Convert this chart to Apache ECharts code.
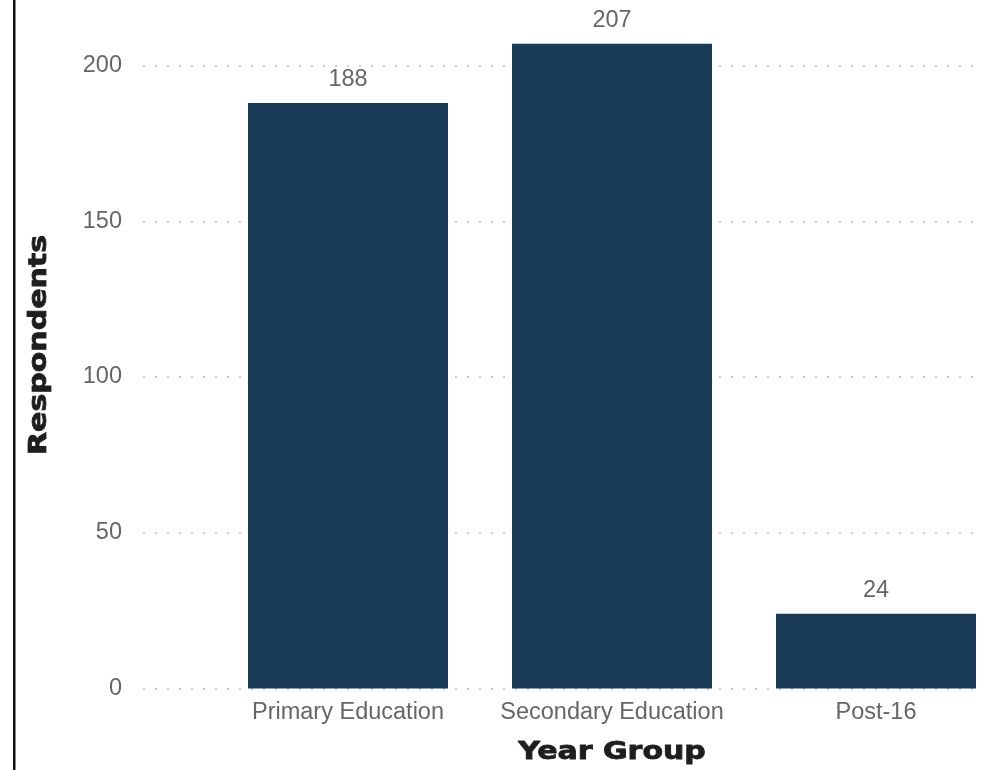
<!DOCTYPE html>
<html>
<head>
<meta charset="utf-8">
<script src="https://cdn.jsdelivr.net/npm/echarts@6/dist/echarts.min.js"></script>
<style>
html,body{margin:0;padding:0;background:#fff;}
#chart{width:982px;height:770px;}
</style>
</head>
<body>
<div id="chart"></div>
<script>
const categories = ['Primary Education', 'Secondary Education', 'Post-16'];
const respondents = [188, 207, 24];
const yTicks = [0, 50, 100, 150, 200];
const xTitle = 'Year Group';
const yTitle = 'Respondents';

const chart = echarts.init(document.getElementById('chart'), null, {renderer: 'canvas'});
const yMin = yTicks[0], yMax = yTicks[yTicks.length - 1], yStep = yTicks[1] - yTicks[0];
const textFont = 'Liberation Sans, Arial, sans-serif';
const titleStyle = {
  fontFamily: 'DejaVu Sans', fontWeight: 'bold', fontSize: 24,
  fill: '#1e1e1e', stroke: '#1e1e1e', lineWidth: 0.8,
  textAlign: 'center', textVerticalAlign: 'middle'
};

chart.setOption({
  animation: false,
  backgroundColor: '#ffffff',
  grid: [
    {left: 143, right: 6, top: 65.5, bottom: 81.5, outerBoundsMode: 'none', containLabel: false},
    {left: 216, width: 792, top: 65.5, bottom: 81.5, outerBoundsMode: 'none', containLabel: false}
  ],
  xAxis: [
    {type: 'value', gridIndex: 0, show: false, min: 0, max: 1},
    {
      type: 'category', gridIndex: 1, data: categories,
      axisLine: {show: false}, axisTick: {show: false},
      axisLabel: {interval: 0, fontFamily: textFont, fontSize: 23.5, color: '#666666', margin: 12}
    }
  ],
  yAxis: [
    {
      type: 'value', gridIndex: 0, min: yMin, max: yMax, interval: yStep,
      axisLine: {show: false}, axisTick: {show: false},
      axisLabel: {fontFamily: textFont, fontSize: 23.5, color: '#666666', margin: 21},
      splitLine: {show: true, lineStyle: {color: '#cccccc', width: 2, type: [2, 10]}}
    },
    {type: 'value', gridIndex: 1, min: yMin, max: yMax, show: false}
  ],
  series: [{
    type: 'bar', xAxisIndex: 1, yAxisIndex: 1,
    data: respondents, barWidth: 200, clip: false,
    itemStyle: {color: '#183a56'},
    label: {show: true, position: 'top', distance: 11, fontFamily: textFont, fontSize: 23.5, color: '#666666'}
  }],
  graphic: [
    {type: 'rect', left: 13, top: 0, shape: {width: 2.5, height: 770}, style: {fill: '#111111'}, silent: true},
    {type: 'text', x: 612, y: 753, scaleX: 1.25, style: Object.assign({text: xTitle}, titleStyle)},
    {type: 'text', x: 40, y: 345, rotation: Math.PI / 2, scaleX: 1.25, style: Object.assign({text: yTitle}, titleStyle)}
  ]
});
</script>
</body>
</html>
